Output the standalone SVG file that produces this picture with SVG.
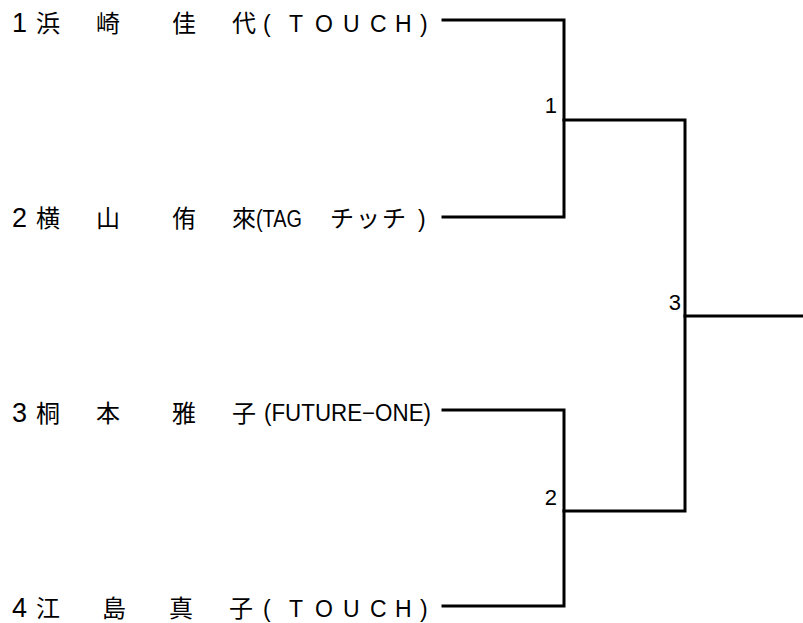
<svg xmlns="http://www.w3.org/2000/svg" width="803" height="623" viewBox="0 0 803 623">
<style>
.num{font-family:"Liberation Sans",Arial,sans-serif;font-size:27px;fill:#000}
.cjk{font-family:"Noto Sans CJK JP","Liberation Sans",sans-serif;font-size:24px;fill:#000}
.lat{font-family:"Liberation Sans",Arial,sans-serif;font-size:23px;fill:#000}
.lbl{font-family:"Liberation Sans",Arial,sans-serif;font-size:22px;fill:#000;text-anchor:end}
.ln{stroke:#000;stroke-width:3;fill:none;stroke-linecap:square}
</style>
<rect width="803" height="623" fill="#fff"/>
<g id="player1">
<text class="num" x="12" y="32">1</text>
<text class="cjk" y="32"><tspan x="36">浜</tspan><tspan x="96">崎</tspan><tspan x="172">佳</tspan><tspan x="232">代</tspan></text>
<text class="lat" y="32"><tspan x="263">(</tspan><tspan x="289">T</tspan><tspan x="315">O</tspan><tspan x="343">U</tspan><tspan x="370">C</tspan><tspan x="395">H</tspan><tspan x="420">)</tspan></text>
</g>
<g id="player2">
<text class="num" x="12" y="227">2</text>
<text class="cjk" y="227"><tspan x="36">横</tspan><tspan x="96">山</tspan><tspan x="172">侑</tspan><tspan x="232">來</tspan></text>
<text class="lat" x="256" y="227" textLength="46" lengthAdjust="spacingAndGlyphs">(TAG</text>
<text class="cjk" y="227"><tspan x="330">チ</tspan><tspan x="356">ッ</tspan><tspan x="382">チ</tspan></text>
<text class="lat" x="418" y="227">)</text>
</g>
<g id="player3">
<text class="num" x="12" y="422">3</text>
<text class="cjk" y="422"><tspan x="36">桐</tspan><tspan x="96">本</tspan><tspan x="172">雅</tspan><tspan x="232">子</tspan></text>
<text class="lat" x="264" y="421" font-size="21" textLength="167" lengthAdjust="spacingAndGlyphs">(FUTURE−ONE)</text>
</g>
<g id="player4">
<text class="num" x="12" y="617">4</text>
<text class="cjk" y="617"><tspan x="36">江</tspan><tspan x="102">島</tspan><tspan x="169">真</tspan><tspan x="229">子</tspan></text>
<text class="lat" y="617"><tspan x="263">(</tspan><tspan x="289">T</tspan><tspan x="315">O</tspan><tspan x="343">U</tspan><tspan x="370">C</tspan><tspan x="395">H</tspan><tspan x="420">)</tspan></text>
</g>
<g id="match1"><text class="lbl" x="557" y="113">1</text></g>
<g id="match2"><text class="lbl" x="557" y="505">2</text></g>
<g id="match3"><text class="lbl" x="681" y="310">3</text></g>
<g id="connectors">
<path class="ln" d="M443 20 H564 V217 H443"/>
<path class="ln" d="M564 120 H685 V511 H564"/>
<path class="ln" d="M443 410 H564 V606 H443"/>
<path class="ln" d="M685 316 H803"/>
</g>
</svg>
